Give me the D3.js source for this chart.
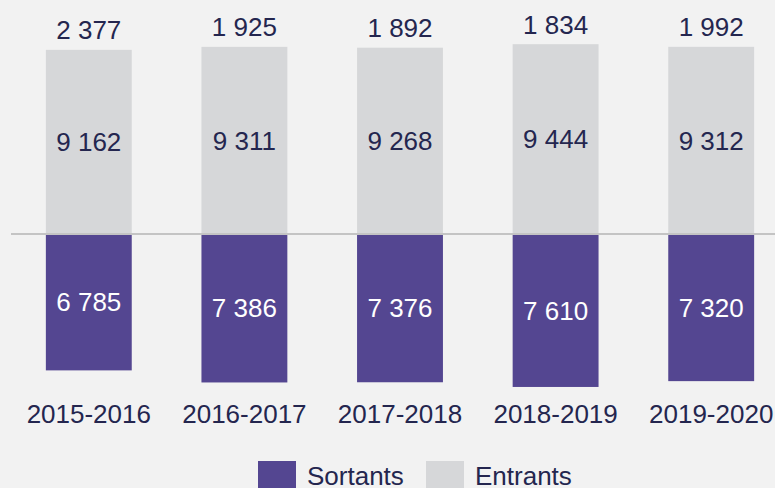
<!DOCTYPE html>
<html>
<head>
<meta charset="utf-8">
<script src="https://cdn.jsdelivr.net/npm/d3@7/dist/d3.min.js"></script>
<style>
  html, body { margin: 0; padding: 0; background: #f2f2f2; }
  svg { display: block; }
  text { font-family: "Liberation Sans", Arial, sans-serif; }
</style>
</head>
<body>
<svg id="chart" width="775" height="488"></svg>
<script>
// School years
const years = ["2015-2016", "2016-2017", "2017-2018", "2018-2019", "2019-2020"];
// Entrants (drawn above the axis)
const entrants = [9162, 9311, 9268, 9444, 9312];
// Sortants (drawn below the axis)
const sortants = [6785, 7386, 7376, 7610, 7320];
// Legend entries
const legendItems = ["Sortants", "Entrants"];

const W = 775, H = 488;
const colEntrants = "#d6d7d9";
const colSortants = "#544691";
const colText = "#24264f";

const svg = d3.select("#chart");
svg.append("rect").attr("width", W).attr("height", H).attr("fill", "#f2f2f2");

const x = d3.scaleBand()
  .domain(years)
  .range([11, 789])
  .paddingInner(0.448)
  .paddingOuter(0.224);

const y = d3.scaleLinear()
  .domain([-10000, 10000])
  .range([234 + 201, 234 - 201]);

const fmt = v => d3.format(",")(v).replace(/,/g, " ");
const fs = 26;

const rows = years.map((yr, i) => ({ yr, e: entrants[i], s: sortants[i] }));

// Entrants bars
svg.selectAll("rect.ent").data(rows).join("rect")
  .attr("class", "ent")
  .attr("x", d => x(d.yr))
  .attr("width", x.bandwidth())
  .attr("y", d => y(d.e))
  .attr("height", d => y(0) - y(d.e))
  .attr("fill", colEntrants);

// Sortants bars
svg.selectAll("rect.sor").data(rows).join("rect")
  .attr("class", "sor")
  .attr("x", d => x(d.yr))
  .attr("width", x.bandwidth())
  .attr("y", y(0) + 1)
  .attr("height", d => y(-d.s) - y(0) - 1)
  .attr("fill", colSortants);

// Axis line
svg.append("line")
  .attr("x1", 11).attr("x2", W)
  .attr("y1", y(0)).attr("y2", y(0))
  .attr("stroke", "#c4c4c4").attr("stroke-width", 2);

const cx = d => x(d.yr) + x.bandwidth() / 2;

// Net balance above each bar
svg.selectAll("text.net").data(rows).join("text")
  .attr("class", "net")
  .attr("x", cx)
  .attr("y", d => y(d.e) - 10.5)
  .attr("text-anchor", "middle")
  .attr("font-size", fs)
  .attr("fill", colText)
  .text(d => fmt(d.e - d.s));

// Entrants values
svg.selectAll("text.ev").data(rows).join("text")
  .attr("class", "ev")
  .attr("x", cx)
  .attr("y", d => (y(d.e) + y(0)) / 2)
  .attr("dy", "0.35em")
  .attr("text-anchor", "middle")
  .attr("font-size", fs)
  .attr("fill", colText)
  .text(d => fmt(d.e));

// Sortants values
svg.selectAll("text.sv").data(rows).join("text")
  .attr("class", "sv")
  .attr("x", cx)
  .attr("y", d => (y(0) + y(-d.s)) / 2)
  .attr("dy", "0.35em")
  .attr("text-anchor", "middle")
  .attr("font-size", fs)
  .attr("fill", "#ffffff")
  .text(d => fmt(d.s));

// Category labels
svg.selectAll("text.cat").data(rows).join("text")
  .attr("class", "cat")
  .attr("x", cx)
  .attr("y", 423)
  .attr("text-anchor", "middle")
  .attr("font-size", fs)
  .attr("fill", colText)
  .text(d => d.yr);

// Legend
const legX = [258, 426];
const legCol = [colSortants, colEntrants];
const leg = svg.selectAll("g.leg").data(legendItems).join("g")
  .attr("class", "leg")
  .attr("transform", (d, i) => `translate(${legX[i]},461)`);
leg.append("rect").attr("width", 38).attr("height", 38)
  .attr("fill", (d, i) => legCol[i]);
leg.append("text")
  .attr("x", 49).attr("y", 24.3)
  .attr("font-size", fs)
  .attr("fill", colText)
  .text(d => d);
</script>
</body>
</html>
